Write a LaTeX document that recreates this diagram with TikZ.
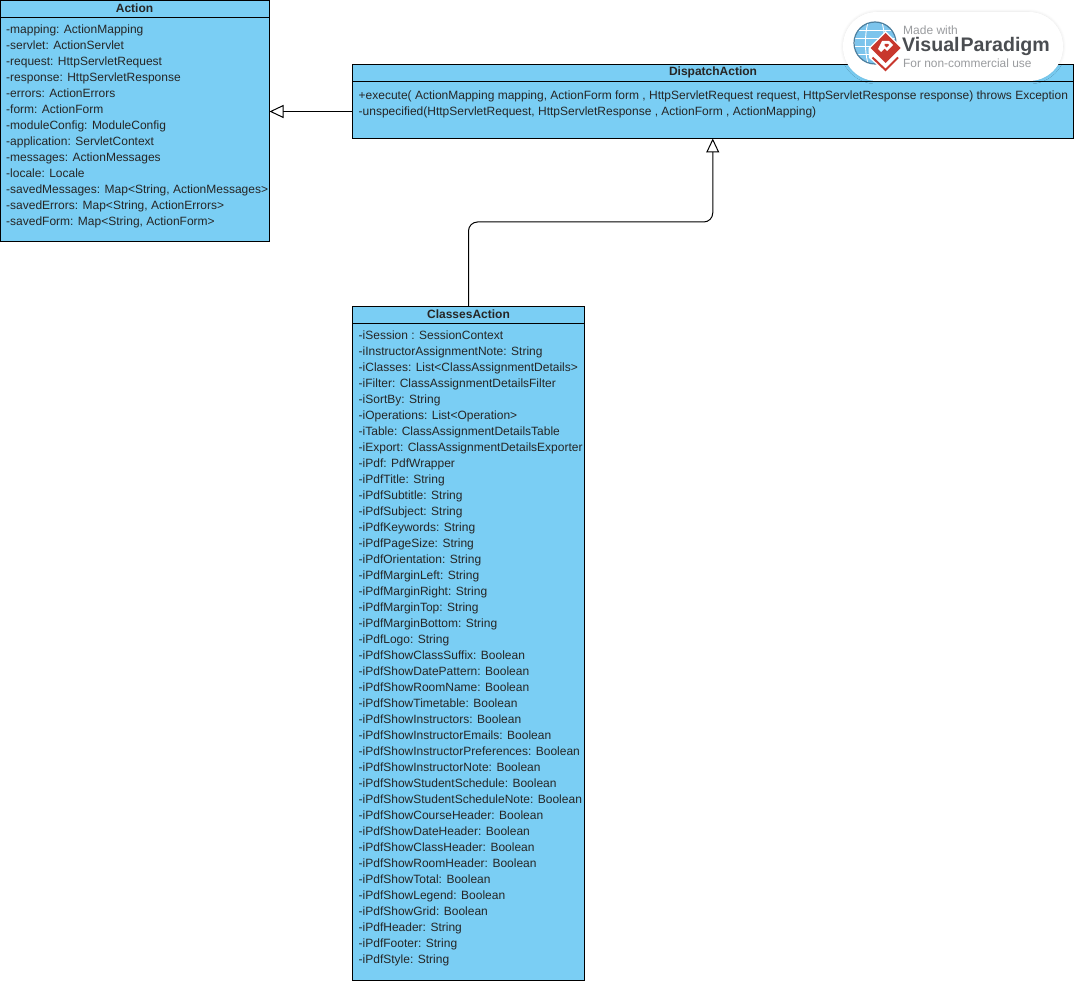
\documentclass[tikz,border=0pt]{standalone}
\usepackage{fontspec}
\setmainfont{Liberation Sans}
\usetikzlibrary{arrows.meta,calc,shadows.blur}
\definecolor{umlblue}{HTML}{7ACEF4}
\definecolor{logogray}{HTML}{9A9C9F}
\definecolor{logodark}{HTML}{4A4D51}
\definecolor{logored}{HTML}{C8372D}
\definecolor{globeblue}{HTML}{7CC4EC}
\definecolor{globeline}{HTML}{4D7F9E}
\tikzset{
  x=1pt,y=-1pt,
  classbox/.style={draw=black,fill=umlblue,line width=1pt,rectangle,inner sep=0pt,outer sep=0pt,anchor=north west},
  classtitle/.style={font=\fontsize{12}{14}\selectfont\bfseries,text=black!85,inner sep=0pt,anchor=center},
  members/.style={font=\fontsize{12}{16}\selectfont,text=black!85,align=left,inner sep=0pt,anchor=north west},
  divider/.style={draw=black,line width=1pt},
  inherit/.style={draw=black,line width=1pt,-{Triangle[open,fill=white,length=14pt,width=13pt,line width=1pt]}},
}
\begin{document}
\begin{tikzpicture}
\useasboundingbox (0,0) rectangle (1074,981);
% Action
\node[classbox,minimum width=269pt,minimum height=241pt] (action) at (0.5,0.5) {};
\draw[divider] (0.5,17.5) -- (269.5,17.5);
\node[classtitle] (actiontitle) at (134.5,8.5) {Action};
\node[members] (actionattrs) at (6,24.5) {-mapping: ActionMapping\\-servlet: ActionServlet\\-request: HttpServletRequest\\-response: HttpServletResponse\\-errors: ActionErrors\\-form: ActionForm\\-moduleConfig: ModuleConfig\\-application: ServletContext\\-messages: ActionMessages\\-locale: Locale\\-savedMessages: Map<String, ActionMessages>\\-savedErrors: Map<String, ActionErrors>\\-savedForm: Map<String, ActionForm>};
% DispatchAction
\node[classbox,minimum width=720.5pt,minimum height=74pt] (dispatch) at (352.5,64.5) {};
\draw[divider] (352.5,81.5) -- (1073,81.5);
\node[classtitle] (dispatchtitle) at (713,72.5) {DispatchAction};
\node[members] (dispatchops) at (358.5,90.5) {+execute( ActionMapping mapping, ActionForm form , HttpServletRequest request, HttpServletResponse response) throws Exception\\-unspecified(HttpServletRequest, HttpServletResponse , ActionForm , ActionMapping)};
% ClassesAction
\node[classbox,minimum width=232pt,minimum height=674pt] (classes) at (352.5,306.5) {};
\draw[divider] (352.5,323.5) -- (584.5,323.5);
\node[classtitle] (classestitle) at (468.5,314.5) {ClassesAction};
\node[members] (classesattrs) at (358.5,330.5) {-iSession : SessionContext\\-iInstructorAssignmentNote: String\\-iClasses: List<ClassAssignmentDetails>\\-iFilter: ClassAssignmentDetailsFilter\\-iSortBy: String\\-iOperations: List<Operation>\\-iTable: ClassAssignmentDetailsTable\\-iExport: ClassAssignmentDetailsExporter\\-iPdf: PdfWrapper\\-iPdfTitle: String\\-iPdfSubtitle: String\\-iPdfSubject: String\\-iPdfKeywords: String\\-iPdfPageSize: String\\-iPdfOrientation: String\\-iPdfMarginLeft: String\\-iPdfMarginRight: String\\-iPdfMarginTop: String\\-iPdfMarginBottom: String\\-iPdfLogo: String\\-iPdfShowClassSuffix: Boolean\\-iPdfShowDatePattern: Boolean\\-iPdfShowRoomName: Boolean\\-iPdfShowTimetable: Boolean\\-iPdfShowInstructors: Boolean\\-iPdfShowInstructorEmails: Boolean\\-iPdfShowInstructorPreferences: Boolean\\-iPdfShowInstructorNote: Boolean\\-iPdfShowStudentSchedule: Boolean\\-iPdfShowStudentScheduleNote: Boolean\\-iPdfShowCourseHeader: Boolean\\-iPdfShowDateHeader: Boolean\\-iPdfShowClassHeader: Boolean\\-iPdfShowRoomHeader: Boolean\\-iPdfShowTotal: Boolean\\-iPdfShowLegend: Boolean\\-iPdfShowGrid: Boolean\\-iPdfHeader: String\\-iPdfFooter: String\\-iPdfStyle: String};
% connectors
\coordinate (dispatchport) at ($(dispatch.north west)+(0,47)$);
\draw[inherit] (dispatchport) -- (dispatchport -| action.east);
\draw[inherit,rounded corners=9pt] ($(classes.north west)+(116,0)$) -- ++(0,-84.5) -| (dispatch.south);
% logo
\fill[white,blur shadow={shadow blur steps=6,shadow xshift=0pt,shadow yshift=0pt,shadow blur radius=3pt,shadow opacity=12},rounded corners=34pt] (843,12) rectangle (1063,81);
\fill[globeblue] (875,43) circle[radius=21pt];
\begin{scope}
\clip (875,43) circle[radius=21pt];
\foreach \dx in {-7,7,-15,15}{\draw[white,line width=.9pt] (875+\dx,22) .. controls (875+1.5*\dx,36) and (875+1.5*\dx,50) .. (875+\dx,64);}
\foreach \dy in {-13,-5,3,11}{\draw[white,line width=.9pt] (854,43+\dy) -- (896,43+\dy);}
\end{scope}
\draw[globeline,line width=1.2pt] (875,43) circle[radius=21pt];
\fill[white] (885.5,31) -- (902.5,48) -- (898,58) -- (885.5,72) -- (869,58) -- (868.5,48) -- cycle;
\fill[logored] (885.5,33) -- (900.5,48) -- (885.5,63) -- (870.5,48) -- cycle;
\fill[white] (882,41) -- (889,41) -- (893,45) -- (887,51) -- (884.5,48.5) -- (881,52) -- (878,49) -- cycle;
\fill[logored] (884.5,44) -- (888,44) -- (889,45) -- (886.5,47.5) -- (884.5,45.5) -- cycle;
\draw[logored,line width=2pt] (872.5,57.5) -- (885.5,70) -- (898,57.5);
\node[font=\fontsize{12}{14}\selectfont,text=logogray,inner sep=0pt,anchor=west] (madewith) at (903,30) {Made with};
\node[font=\fontsize{19.6}{24}\selectfont\bfseries,text=logodark,inner sep=0pt,anchor=west] (vp) at (902,46.5) {Visual\kern1ptParadigm};
\node[font=\fontsize{11.9}{14}\selectfont,text=logogray,inner sep=0pt,anchor=west] (fornc) at (903,63) {For non-commercial use};
\end{tikzpicture}
\end{document}
